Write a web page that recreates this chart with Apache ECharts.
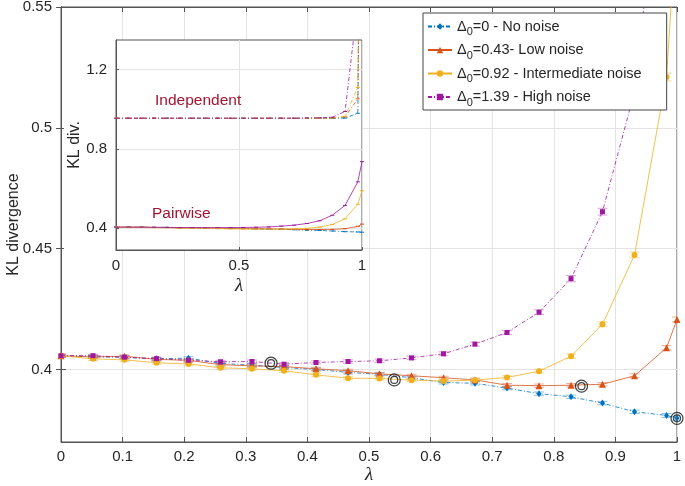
<!DOCTYPE html>
<html><head><meta charset="utf-8">
<script src="https://cdn.jsdelivr.net/npm/echarts@6/dist/echarts.min.js"></script>
<style>html,body{margin:0;padding:0;background:#fff}#c{width:685px;height:486px}</style>
</head><body><div id="c"></div>
<script>
// ---------- data ----------
const lambda = [0, 0.052, 0.103, 0.155, 0.207, 0.259, 0.31, 0.362, 0.414, 0.466, 0.517, 0.569, 0.621, 0.672, 0.724, 0.776, 0.828, 0.879, 0.931, 0.983, 1.0];
// pairwise model KL divergence (main plot)
const klNone = [0.4057, 0.4053, 0.4050, 0.4044, 0.4047, 0.4025, 0.4018, 0.4008, 0.4000, 0.3988, 0.3980, 0.3966, 0.3946, 0.3943, 0.3923, 0.3900, 0.3887, 0.3861, 0.3825, 0.3810, 0.3798];
const klLow  = [0.4057, 0.4052, 0.4055, 0.4042, 0.4038, 0.4020, 0.4015, 0.4012, 0.4003, 0.3995, 0.3982, 0.3974, 0.3966, 0.3957, 0.3935, 0.3933, 0.3935, 0.3939, 0.3974, 0.4090, 0.4207];
const klMid  = [0.4057, 0.4044, 0.4040, 0.4028, 0.4023, 0.4007, 0.4003, 0.3995, 0.3978, 0.3964, 0.3963, 0.3956, 0.3952, 0.3956, 0.3967, 0.3993, 0.4055, 0.4187, 0.4474, 0.5210, 0.5890];
const klHigh = [0.4057, 0.4057, 0.4051, 0.4045, 0.4038, 0.4032, 0.4033, 0.4022, 0.4029, 0.4033, 0.4036, 0.4048, 0.4065, 0.4105, 0.4153, 0.4237, 0.4376, 0.4653, 0.5150, 0.6340, 0.7360];
// error bar half-lengths
const errNone = [0.0006, 0.0006, 0.0006, 0.0006, 0.0006, 0.0006, 0.0006, 0.0006, 0.0006, 0.0006, 0.0006, 0.0006, 0.0006, 0.0007, 0.0007, 0.0007, 0.0007, 0.0007, 0.0007, 0.0008, 0.0008];
const errLow  = [0.0006, 0.0006, 0.0006, 0.0006, 0.0006, 0.0006, 0.0006, 0.0006, 0.0006, 0.0006, 0.0006, 0.0006, 0.0006, 0.0007, 0.0007, 0.0007, 0.0007, 0.0007, 0.0008, 0.0009, 0.0010];
const errMid  = [0.0006, 0.0006, 0.0006, 0.0006, 0.0006, 0.0006, 0.0006, 0.0006, 0.0006, 0.0006, 0.0006, 0.0006, 0.0006, 0.0007, 0.0007, 0.0008, 0.0009, 0.0010, 0.0012, 0.0016, 0.0020];
const errHigh = [0.0006, 0.0006, 0.0006, 0.0006, 0.0006, 0.0006, 0.0006, 0.0006, 0.0006, 0.0007, 0.0007, 0.0007, 0.0008, 0.0008, 0.0009, 0.0010, 0.0013, 0.0014, 0.0018, 0.0025, 0.0030];
// independent model KL divergence (inset)
const indNone = [0.955, 0.955, 0.955, 0.955, 0.955, 0.955, 0.955, 0.955, 0.955, 0.955, 0.955, 0.955, 0.955, 0.955, 0.955, 0.955, 0.955, 0.955, 0.956, 0.980, 3.0];
const indLow  = [0.955, 0.955, 0.955, 0.955, 0.955, 0.955, 0.955, 0.955, 0.955, 0.955, 0.955, 0.955, 0.955, 0.955, 0.955, 0.955, 0.955, 0.956, 0.962, 1.053, 3.2];
const indMid  = [0.955, 0.955, 0.955, 0.955, 0.955, 0.955, 0.955, 0.955, 0.955, 0.955, 0.955, 0.955, 0.955, 0.955, 0.955, 0.955, 0.956, 0.957, 0.965, 1.110, 3.4];
const indHigh = [0.955, 0.955, 0.955, 0.955, 0.955, 0.955, 0.955, 0.955, 0.955, 0.955, 0.955, 0.955, 0.955, 0.955, 0.955, 0.956, 0.957, 0.960, 0.989, 1.540, 4.0];
// optimal points (double circles)
const optLambda = [1.0, 0.845, 0.541, 0.341];
const optKL = [0.3798, 0.3931, 0.3957, 0.4026];
// axes
const yTicks = [0.4, 0.45, 0.5, 0.55];
const insetYTicks = [0.4, 0.8, 1.2];
const seriesNames = ['Δ0=0 - No noise', 'Δ0=0.43- Low noise', 'Δ0=0.92 - Intermediate noise', 'Δ0=1.39 - High noise'];
const insetLabels = ['Independent', 'Pairwise'];

// ---------- styles ----------
const colors = ['#0072BD', '#D95319', '#EDB120', '#A0189E'];
const errColors = ['rgba(0,114,189,0.45)', 'rgba(217,83,25,0.45)', 'rgba(237,177,32,0.5)', 'rgba(160,24,158,0.4)'];
const symbols = ['diamond', 'triangle', 'circle', 'rect'];
const symSizes = [[5, 7], 7, 6, 5];
const dashDot = [4, 2, 1, 2];
const lineTypes = [dashDot, 'solid', 'solid', dashDot];
const FONT = 'Liberation Sans';
const pairs = [klNone, klLow, klMid, klHigh];
const errs = [errNone, errLow, errMid, errHigh];
const inds = [indNone, indLow, indMid, indHigh];

function zip(xs, ys) { return xs.map((x, i) => [x, ys[i]]); }

function errRender(color) {
  return function (params, api) {
    const x = api.value(0), y = api.value(1), e = api.value(2);
    const p1 = api.coord([x, y + e]), p2 = api.coord([x, y - e]);
    const hw = 5;
    const st = { stroke: color, lineWidth: 1 };
    return { type: 'group', children: [
      { type: 'line', shape: { x1: p1[0], y1: p1[1], x2: p2[0], y2: p2[1] }, style: st },
      { type: 'line', shape: { x1: p1[0] - hw, y1: p1[1], x2: p1[0] + hw, y2: p1[1] }, style: st },
      { type: 'line', shape: { x1: p2[0] - hw, y1: p2[1], x2: p2[0] + hw, y2: p2[1] }, style: st }
    ]};
  };
}

const series = [];
for (let k = 0; k < 4; k++) {
  series.push({
    type: 'custom', xAxisIndex: 0, yAxisIndex: 0, clip: true, z: 3, silent: true,
    renderItem: errRender(errColors[k]),
    data: lambda.map((x, i) => [x, pairs[k][i], errs[k][i]])
  });
}
for (let k = 0; k < 4; k++) {
  series.push({
    name: seriesNames[k], type: 'line', xAxisIndex: 0, yAxisIndex: 0, z: 4 + k,
    data: zip(lambda, pairs[k]), symbol: symbols[k], symbolSize: symSizes[k], showSymbol: true,
    itemStyle: { color: colors[k] },
    lineStyle: { color: colors[k], width: 0.8, type: lineTypes[k] }
  });
}
series.push({
  type: 'scatter', xAxisIndex: 0, yAxisIndex: 0, z: 9, silent: true,
  data: zip(optLambda, optKL), symbol: 'circle', symbolSize: 12,
  itemStyle: { color: 'rgba(0,0,0,0)', borderColor: '#111', borderWidth: 1.2 }
});
series.push({
  type: 'scatter', xAxisIndex: 0, yAxisIndex: 0, z: 9, silent: true,
  data: zip(optLambda, optKL), symbol: 'circle', symbolSize: 7,
  itemStyle: { color: 'rgba(0,0,0,0)', borderColor: '#111', borderWidth: 1.2 }
});
const insetPairTypes = [dashDot, 'solid', 'solid', 'solid'];
for (let k = 0; k < 4; k++) {
  series.push({
    name: 'ind' + k, type: 'line', xAxisIndex: 2, yAxisIndex: 2, z: 20,
    data: zip(lambda, inds[k]), symbol: 'rect', symbolSize: [4, 1], showSymbol: true,
    itemStyle: { color: colors[k] },
    lineStyle: { color: colors[k], width: 0.8, type: dashDot }
  });
  series.push({
    name: 'pair' + k, type: 'line', xAxisIndex: 2, yAxisIndex: 2, z: 20,
    data: zip(lambda, pairs[k]), symbol: 'rect', symbolSize: [4, 1], showSymbol: true,
    itemStyle: { color: colors[k] },
    lineStyle: { color: colors[k], width: 0.8, type: insetPairTypes[k] }
  });
}

const axisCol = '#555';
const labelStyle = { color: '#262626', fontSize: 15, fontFamily: FONT };
const gridLine = { show: true, lineStyle: { color: '#e3e3e3', width: 1 } };
const lamStyle = { fontSize: 19, fontFamily: 'Liberation Serif', fontStyle: 'italic', color: '#262626' };

const option = {
  animation: false,
  backgroundColor: '#fff',
  grid: [
    { left: 61, top: 7, width: 616, height: 435, show: true, borderColor: axisCol, borderWidth: 1,
      backgroundColor: '#fff', z: 0, containLabel: false, outerBoundsMode: 'none' },
    { left: 116, top: 40, width: 246, height: 210, show: true, borderColor: axisCol, borderWidth: 1,
      backgroundColor: '#fff', z: 10, containLabel: false, outerBoundsMode: 'none' }
  ],
  xAxis: [
    { type: 'value', gridIndex: 0, min: 0, max: 1, interval: 0.1, position: 'bottom',
      axisLine: { show: true, lineStyle: { color: axisCol } },
      axisTick: { inside: true, length: 5, lineStyle: { color: axisCol } },
      axisLabel: Object.assign({ margin: 7 }, labelStyle), splitLine: gridLine,
      name: 'λ', nameLocation: 'middle', nameGap: 23, nameMoveOverlap: false, nameTextStyle: lamStyle },
    { type: 'value', gridIndex: 0, min: 0, max: 1, interval: 0.1, position: 'top',
      axisLine: { show: true, lineStyle: { color: axisCol } },
      axisTick: { inside: true, length: 5, lineStyle: { color: axisCol } },
      axisLabel: { show: false }, splitLine: { show: false } },
    { type: 'value', gridIndex: 1, min: 0, max: 1, interval: 0.5, position: 'bottom', z: 12,
      axisLine: { show: true, lineStyle: { color: axisCol } },
      axisTick: { inside: true, length: 3, lineStyle: { color: axisCol } },
      axisLabel: Object.assign({ margin: 8 }, labelStyle), splitLine: gridLine,
      name: 'λ', nameLocation: 'middle', nameGap: 26, nameMoveOverlap: false, nameTextStyle: lamStyle }
  ],
  yAxis: [
    { type: 'value', gridIndex: 0, min: 0.37, max: 0.55, position: 'left',
      axisLine: { show: true, lineStyle: { color: axisCol } },
      axisTick: { inside: true, length: 5, customValues: yTicks, lineStyle: { color: axisCol } },
      axisLabel: Object.assign({ margin: 9, customValues: yTicks }, labelStyle), splitLine: gridLine,
      name: 'KL divergence', nameLocation: 'middle', nameGap: 39, nameMoveOverlap: false,
      nameTextStyle: { fontSize: 16, fontFamily: FONT, color: '#262626' } },
    { type: 'value', gridIndex: 0, min: 0.37, max: 0.55, position: 'right',
      axisLine: { show: true, lineStyle: { color: axisCol } },
      axisTick: { inside: true, length: 5, customValues: yTicks, lineStyle: { color: axisCol } },
      axisLabel: { show: false, customValues: yTicks }, splitLine: { show: false } },
    { type: 'value', gridIndex: 1, min: 0.29, max: 1.35, position: 'left', z: 12,
      axisLine: { show: true, lineStyle: { color: axisCol } },
      axisTick: { inside: true, length: 3, customValues: insetYTicks, lineStyle: { color: axisCol } },
      axisLabel: Object.assign({ margin: 9, customValues: insetYTicks }, labelStyle), splitLine: gridLine,
      name: 'KL div.', nameLocation: 'middle', nameGap: 33, nameMoveOverlap: false,
      nameTextStyle: { fontSize: 16, fontFamily: FONT, color: '#262626' } }
  ],
  legend: {
    data: seriesNames, orient: 'vertical', left: 423, top: 13,
    padding: [6, 25, 2, 4], itemGap: 5, itemWidth: 24, itemHeight: 8,
    backgroundColor: '#fff', borderColor: '#444', borderWidth: 1, z: 30,
    formatter: function (name) { return '{d|Δ}{s|0}{t|' + name.slice(2) + '}'; },
    textStyle: {
      fontFamily: FONT, color: '#262626',
      rich: {
        d: { fontSize: 14.5, lineHeight: 22, fontFamily: FONT, color: '#262626' },
        s: { fontSize: 11, lineHeight: 13, verticalAlign: 'bottom', fontFamily: FONT, color: '#262626' },
        t: { fontSize: 14.5, lineHeight: 22, fontFamily: FONT, color: '#262626' }
      }
    }
  },
  graphic: [
    { type: 'rect', z: 9, silent: true, shape: { x: 64, y: 36, width: 52, height: 222 }, style: { fill: '#fff' } },
    { type: 'text', z: 40, left: 155, top: 93, style: { text: insetLabels[0], fill: '#A2142F', fontSize: 15.5, fontFamily: FONT } },
    { type: 'text', z: 40, left: 152, top: 206, style: { text: insetLabels[1], fill: '#A2142F', fontSize: 15.5, fontFamily: FONT } }
  ],
  series: series
};
const chart = echarts.init(document.getElementById('c'), null, { renderer: 'canvas' });
chart.setOption(option);
</script></body></html>
